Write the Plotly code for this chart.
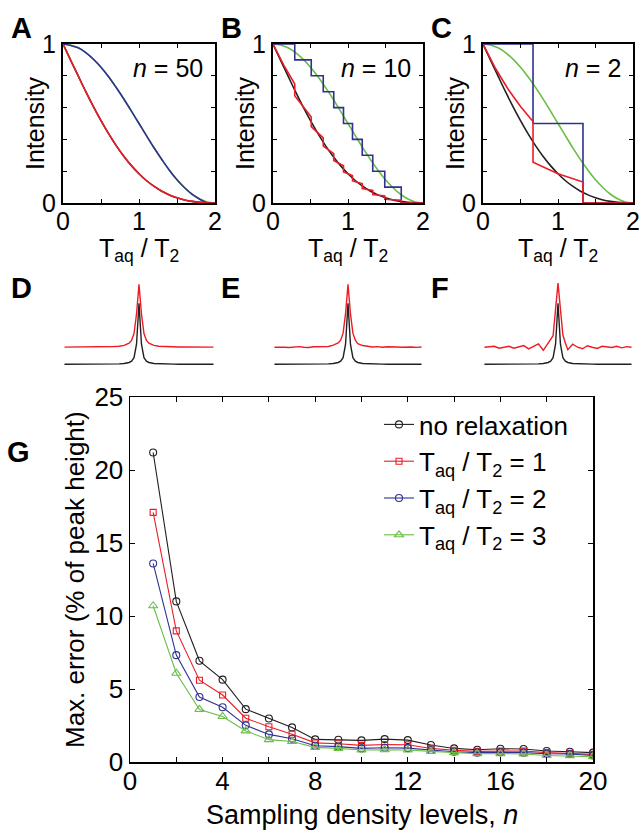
import plotly.graph_objects as go

W, H = 641, 833
FONT = "Liberation Sans, Arial, Helvetica, sans-serif"
BLACK = "#231f20"
RED = "#ed1c24"
BLUE = "#2e3192"
GREEN = "#6abd45"

# ---------------- Panels A-C : intensity vs Taq/T2 ----------------
T_GRID = [0.0, 0.1, 0.2, 0.3, 0.4, 0.5, 0.6, 0.7, 0.8, 0.9, 1.0,
          1.1, 1.2, 1.3, 1.4, 1.5, 1.6, 1.7, 1.8, 1.9, 2.0]
GREEN_VALS = [1.0, 0.994, 0.976, 0.946, 0.905, 0.854, 0.794, 0.727, 0.655, 0.578, 0.5,
              0.422, 0.345, 0.273, 0.206, 0.146, 0.096, 0.055, 0.025, 0.006, 0.0]
BLACK_VALS = [1.0, 0.899, 0.799, 0.700, 0.606, 0.518, 0.436, 0.361, 0.294, 0.235, 0.184,
              0.140, 0.104, 0.074, 0.051, 0.033, 0.019, 0.010, 0.004, 0.001, 0.0]
# n = 50 (steps too fine to resolve)
BLUE_A_VALS = [1.0, 0.99, 0.976, 0.946, 0.904, 0.854, 0.794, 0.726, 0.654, 0.578, 0.5,
               0.422, 0.346, 0.274, 0.206, 0.146, 0.096, 0.054, 0.024, 0.0, 0.0]
RED_A_VALS = [1.0, 0.899, 0.799, 0.700, 0.606, 0.518, 0.436, 0.361, 0.294, 0.235, 0.184,
              0.140, 0.104, 0.074, 0.051, 0.033, 0.019, 0.010, 0.004, 0.0, 0.0]
# n = 10
BLUE_B_X = [0.0, 0.29, 0.51, 0.67, 0.81, 0.94, 1.06, 1.19, 1.33, 1.49, 1.71, 2.0]
BLUE_B_Y = [1.0, 0.9, 0.8, 0.7, 0.6, 0.5, 0.4, 0.3, 0.2, 0.1, 0.0, 0.0]
RED_B_X = [0.0, 0.145, 0.29, 0.29, 0.51, 0.51, 0.67, 0.67, 0.81, 0.81, 0.94, 0.94,
           1.06, 1.06, 1.19, 1.19, 1.33, 1.33, 1.49, 1.49, 1.71, 1.71, 2.0]
RED_B_Y = [1.0, 0.865, 0.748, 0.674, 0.541, 0.480, 0.409, 0.358, 0.311, 0.267, 0.234, 0.195,
           0.173, 0.139, 0.122, 0.091, 0.079, 0.053, 0.045, 0.023, 0.018, 0.0, 0.0]
# n = 2
BLUE_C_X = [0.0, 0.667, 1.333, 2.0]
BLUE_C_Y = [1.0, 0.5, 0.0, 0.0]
RED_C_X = [0.0, 0.167, 0.333, 0.5, 0.667, 0.667, 1.0, 1.333, 1.333, 2.0]
RED_C_Y = [1.0, 0.846, 0.717, 0.607, 0.513, 0.257, 0.184, 0.132, 0.0, 0.0]

N_LABELS = ["50", "10", "2"]
TOP_X_TICKS = [0, 1, 2]
TOP_Y_TICKS = [0, 1]

# ---------------- Panels D-F : spectra ----------------
SPEC_X = [-15, -14, -13, -12, -11, -10, -9, -8, -7, -6, -5, -4, -3, -2, -1.5, -1, -0.5, 0,
          0.5, 1, 1.5, 2, 3, 4, 5, 6, 7, 8, 9, 10, 11, 12, 13, 14, 15]
BLACK_SPEC = [0.0005, 0.0006, 0.0007, 0.0009, 0.001, 0.0012, 0.0015, 0.002, 0.0025, 0.0034,
              0.005, 0.0076, 0.013, 0.03, 0.052, 0.109, 0.33, 1.0,
              0.33, 0.109, 0.052, 0.03, 0.013, 0.0076, 0.005, 0.0034, 0.0025, 0.002, 0.0015,
              0.0012, 0.001, 0.0009, 0.0007, 0.0006, 0.0005]
RED_SPEC_D = [0.001, 0.001, 0.0015, 0.002, 0.002, 0.003, 0.003, 0.004, 0.005, 0.008,
              0.011, 0.017, 0.03, 0.066, 0.112, 0.224, 0.545, 1.03,
              0.545, 0.224, 0.112, 0.066, 0.03, 0.017, 0.011, 0.008, 0.005, 0.004, 0.003,
              0.003, 0.002, 0.002, 0.0015, 0.001, 0.001]
RED_SPEC_E = [0.0, 0.005, 0.0, -0.005, 0.005, 0.01, 0.0, -0.005, 0.008, 0.01,
              0.0, 0.012, 0.035, 0.07, 0.115, 0.23, 0.55, 1.03,
              0.55, 0.23, 0.115, 0.06, 0.028, 0.02, 0.005, 0.01, 0.0, 0.008, 0.012,
              0.005, 0.0, 0.008, 0.005, -0.003, 0.005]
RED_SPEC_F = [0.0, 0.005, 0.016, -0.016, 0.0, 0.016, -0.016, 0.0, 0.027, -0.027,
              0.01, 0.055, -0.05, 0.065, 0.12, 0.19, 0.62, 1.05,
              0.62, 0.2, 0.07, -0.04, 0.05, 0.0, -0.025, 0.025, 0.0, -0.02, 0.015,
              0.0, -0.005, 0.015, -0.01, 0.01, 0.0]
RED_OFFSET = 0.28

# ---------------- Panel G : max error vs n ----------------
N_LEVELS = [1, 2, 3, 4, 5, 6, 7, 8, 9, 10, 11, 12, 13, 14, 15, 16, 17, 18, 19, 20]
ERR_NO_RELAX = [21.2, 11.0, 6.93, 5.64, 3.62, 2.98, 2.37, 1.55, 1.52, 1.48, 1.57, 1.5,
                1.16, 0.93, 0.84, 0.91, 0.89, 0.75, 0.7, 0.64]
ERR_T1 = [17.1, 8.98, 5.6, 4.59, 3.0, 2.41, 1.9, 1.31, 1.25, 1.14, 1.2, 1.18,
          0.93, 0.8, 0.73, 0.75, 0.75, 0.64, 0.59, 0.52]
ERR_T2 = [13.6, 7.32, 4.45, 3.75, 2.51, 1.89, 1.59, 1.11, 1.05, 0.93, 0.98, 0.95,
          0.82, 0.7, 0.64, 0.66, 0.64, 0.57, 0.55, 0.45]
ERR_T3 = [10.7, 6.08, 3.6, 3.12, 2.13, 1.53, 1.4, 1.0, 0.93, 0.82, 0.84, 0.82,
          0.73, 0.64, 0.57, 0.57, 0.55, 0.45, 0.43, 0.36]
G_NAMES = ["no relaxation", "T<sub>aq</sub> / T<sub>2</sub> = 1",
           "T<sub>aq</sub> / T<sub>2</sub> = 2", "T<sub>aq</sub> / T<sub>2</sub> = 3"]
G_X_TICKS = [0, 4, 8, 12, 16, 20]
G_Y_TICKS = [0, 5, 10, 15, 20, 25]


def xd(a, b):
    return [a / W, b / W]


def yd(top, bottom):
    return [1 - bottom / H, 1 - top / H]


fig = go.Figure()

top_x = [(63, 215), (273, 423), (483, 633)]
top_y = (44, 203)
spec_y = (278, 372)

panel_data = [
    (T_GRID, BLUE_A_VALS, "spline", T_GRID, RED_A_VALS, "spline"),
    (BLUE_B_X, BLUE_B_Y, "hv", RED_B_X, RED_B_Y, "linear"),
    (BLUE_C_X, BLUE_C_Y, "hv", RED_C_X, RED_C_Y, "linear"),
]

LW = 1.6
for i, (bx, by, bshape, rx, ry, rshape) in enumerate(panel_data):
    ax = "" if i == 0 else str(i + 1)
    xa, ya = "x" + ax, "y" + ax
    fig.add_trace(go.Scatter(x=T_GRID, y=GREEN_VALS, mode="lines", line=dict(color=GREEN, width=LW, shape="spline"),
                             xaxis=xa, yaxis=ya, showlegend=False))
    fig.add_trace(go.Scatter(x=T_GRID, y=BLACK_VALS, mode="lines", line=dict(color=BLACK, width=LW, shape="spline"),
                             xaxis=xa, yaxis=ya, showlegend=False))
    fig.add_trace(go.Scatter(x=bx, y=by, mode="lines", line=dict(color=BLUE, width=LW, shape=bshape),
                             xaxis=xa, yaxis=ya, showlegend=False))
    fig.add_trace(go.Scatter(x=rx, y=ry, mode="lines", line=dict(color=RED, width=LW, shape=rshape),
                             xaxis=xa, yaxis=ya, showlegend=False))

for i, red in enumerate([RED_SPEC_D, RED_SPEC_E, RED_SPEC_F]):
    xa, ya = "x" + str(i + 4), "y" + str(i + 4)
    fig.add_trace(go.Scatter(x=SPEC_X, y=BLACK_SPEC, mode="lines", line=dict(color=BLACK, width=1.4),
                             xaxis=xa, yaxis=ya, showlegend=False))
    fig.add_trace(go.Scatter(x=SPEC_X, y=[v + RED_OFFSET for v in red], mode="lines",
                             line=dict(color=RED, width=1.4), xaxis=xa, yaxis=ya, showlegend=False))

g_series = [(ERR_NO_RELAX, BLACK, "circle-open", 7), (ERR_T1, RED, "square-open", 6),
            (ERR_T2, BLUE, "circle-open", 7), (ERR_T3, GREEN, "triangle-up-open", 8)]
for (vals, col, sym, sz), name in zip(g_series, G_NAMES):
    fig.add_trace(go.Scatter(x=N_LEVELS, y=vals, mode="lines+markers", name=name,
                             line=dict(color=col, width=1.1),
                             marker=dict(symbol=sym, size=sz, color=col, line=dict(color=col, width=1.1)),
                             xaxis="x7", yaxis="y7"))

layout = dict(template="none", width=W, height=H,
              margin=dict(l=0, r=0, t=0, b=0, pad=0, autoexpand=False),
              paper_bgcolor="white", plot_bgcolor="white",
              font=dict(family=FONT, color="black"))


def frame_axis(domain, rng, tvals, minor_dtick, anchor, size, ticklen, standoff):
    return dict(domain=domain, range=rng, tickmode="array", tickvals=tvals,
                ticktext=[str(v) for v in tvals], ticks="inside",
                ticklen=ticklen, tickwidth=1, tickcolor="black", showline=True, linecolor="black",
                linewidth=2, mirror="ticks", showgrid=False, zeroline=False, anchor=anchor,
                minor=dict(ticks="inside", dtick=minor_dtick, tick0=0, ticklen=ticklen,
                           tickwidth=1, tickcolor="black", showgrid=False),
                ticklabelstandoff=standoff, automargin=False,
                tickfont=dict(family=FONT, size=size, color="black"), fixedrange=True)


for i, (a, b) in enumerate(top_x):
    ax = "" if i == 0 else str(i + 1)
    layout["xaxis" + ax] = frame_axis(xd(a, b), [0, 2], TOP_X_TICKS, 0.5, "y" + ax, 25, 4, -5)
    layout["yaxis" + ax] = frame_axis(yd(*top_y), [0, 1], TOP_Y_TICKS, 0.2, "x" + ax, 25, 4, 0)
    k = str(i + 4)
    layout["xaxis" + k] = dict(domain=xd(a, b), range=[-15.3, 15.3], visible=False, anchor="y" + k, fixedrange=True)
    layout["yaxis" + k] = dict(domain=yd(*spec_y), range=[-0.126, 1.415], visible=False, anchor="x" + k, fixedrange=True)

layout["xaxis7"] = frame_axis(xd(130, 593), [0, 20], G_X_TICKS, 2, "y7", 26, 5, -5)
layout["yaxis7"] = frame_axis(yd(397, 762), [0, 25], G_Y_TICKS, 5, "x7", 26, 5, 0)
layout["xaxis7"]["linewidth"] = 1.5
layout["yaxis7"]["linewidth"] = 1.5

layout["legend"] = dict(x=379 / W, y=1 - 401 / H, xanchor="left", yanchor="top",
                        bgcolor="rgba(0,0,0,0)", borderwidth=0, itemwidth=30,
                        font=dict(family=FONT, size=26, color="black"), tracegroupgap=0)
layout["showlegend"] = True

ann = []


def text(x, y, s, size, xanchor="center", yanchor="middle", angle=0, bold=False):
    ann.append(dict(x=x / W, y=1 - y / H, xref="paper", yref="paper", text=("<b>%s</b>" % s) if bold else s,
                    showarrow=False, xanchor=xanchor, yanchor=yanchor, textangle=angle,
                    font=dict(family=FONT, size=size, color="black")))


for letter, (x, y) in zip("ABCDEFG", [(9, 28), (219, 28), (429, 28), (9, 288), (219, 288), (429, 288), (5, 452)]):
    text(x, y, letter, 29, xanchor="left", bold=True)

for (a, b), nl in zip(top_x, N_LABELS):
    text(b - 10, 68, "<i>n</i> = " + nl, 25, xanchor="right")
    text(a - 28, 123, "Intensity", 25, angle=-90)
    text((a + b) / 2, 250, "T<sub>aq</sub> / T<sub>2</sub>", 25)

text(362, 815, "Sampling density levels, <i>n</i>", 27)
text(75, 580, "Max. error (% of peak height)", 26, angle=-90)

layout["annotations"] = ann
fig.update_layout(**layout)
fig.write_html("out.html", config={"displayModeBar": False, "staticPlot": True},
               post_script="document.body.style.margin='0px';document.body.style.padding='0px';")
